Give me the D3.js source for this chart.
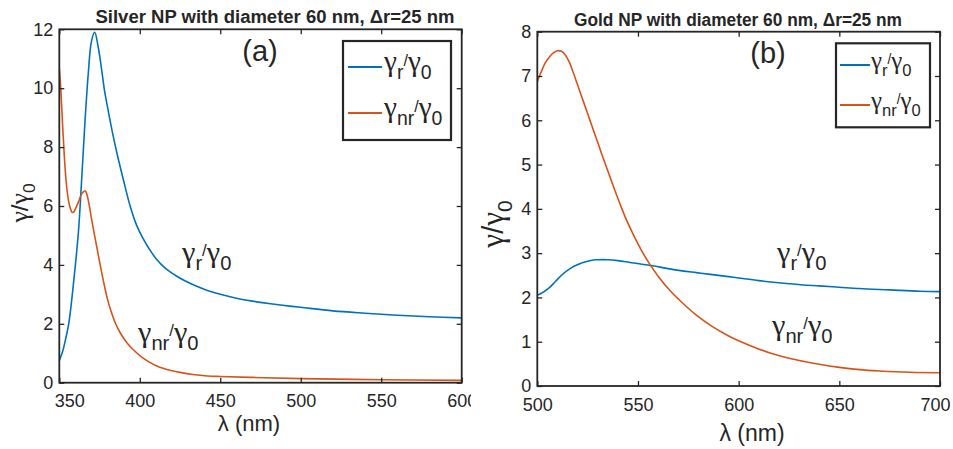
<!DOCTYPE html>
<html>
<head>
<meta charset="utf-8">
<script src="https://cdn.jsdelivr.net/npm/d3@7"></script>
<style>
  body { margin: 0; background: #fff; }
  svg { display: block; }
  text { font-family: "Liberation Sans", Arial, Helvetica, sans-serif; fill: #262626; }
</style>
</head>
<body>
<svg id="fig" width="953" height="449"></svg>
<script>
// ---- Silver nanoparticle (panel a) ----
const silverRadLambda = [350,352,354,356,358,360,362,364,366,368,370,372,374,376,378,380,383,386,390,394,398,402,406,410,416,422,428,435,442,450,460,470,480,490,500,520,540,560,580,600];
const silverRad       = [0.75,1.05,1.5,2.05,2.95,4.0,5.2,7.0,8.9,10.5,11.6,11.9,11.45,10.75,9.95,9.35,8.5,7.75,6.85,6.0,5.35,4.9,4.53,4.22,3.88,3.65,3.46,3.28,3.13,3.0,2.87,2.77,2.69,2.62,2.56,2.44,2.36,2.29,2.24,2.2];

const silverNonRadLambda = [350,351,352,353,354,355,356,357,358,359,360,362,364,366,367,368,369,370,372,374,376,378,380,382,385,388,392,396,401,406,412,418,425,433,442,450,470,500,550,600];
const silverNonRad       = [10.7,9.9,8.8,7.8,7.0,6.45,6.1,5.9,5.78,5.8,5.9,6.15,6.42,6.52,6.42,6.2,5.9,5.57,4.98,4.4,3.83,3.3,2.82,2.45,2.0,1.68,1.36,1.12,0.88,0.7,0.53,0.43,0.35,0.28,0.23,0.21,0.18,0.14,0.1,0.08];

// ---- Gold nanoparticle (panel b) ----
const goldRadLambda = [500,503,506,509,512,515,518,522,526,530,535,540,546,552,558,565,572,579,586,595,600,610,620,632,640,650,660,675,690,700];
const goldRad       = [2.05,2.12,2.22,2.36,2.5,2.61,2.7,2.78,2.83,2.85,2.85,2.83,2.79,2.75,2.71,2.65,2.6,2.56,2.52,2.47,2.44,2.38,2.33,2.28,2.26,2.23,2.2,2.17,2.14,2.13];

const goldNonRadLambda = [500,502,504,506,508,510,512,514,516,518,520,523,526,529,532,535,538,541,544,548,552,556,560,566,572,579,587,595,600,608,616,624,632,640,650,660,670,685,700];
const goldNonRad       = [6.87,7.1,7.3,7.43,7.52,7.57,7.56,7.47,7.3,7.06,6.8,6.41,6.02,5.63,5.24,4.86,4.48,4.12,3.78,3.39,3.04,2.74,2.48,2.15,1.88,1.6,1.34,1.13,1.02,0.87,0.74,0.64,0.56,0.49,0.42,0.37,0.34,0.31,0.3];

// ---- Ticks and text ----
const silverXTicks = [350,400,450,500,550,600];
const silverYTicks = [0,2,4,6,8,10,12];
const goldXTicks   = [500,550,600,650,700];
const goldYTicks   = [0,1,2,3,4,5,6,7,8];
const titles = ["Silver NP with diameter 60 nm, \u0394r=25 nm", "Gold NP with diameter 60 nm, \u0394r=25 nm"];
const panelTags = ["(a)", "(b)"];
const xLabelText = "\u03bb (nm)";
const seriesNames = ["r", "nr"];   // subscripts of gamma_r / gamma_nr

const BLUE = "#0072BD", ORANGE = "#D95319", AXIS = "#262626";
const GREEK_FONT = '"Liberation Serif", "DejaVu Serif", serif';
const svg = d3.select("#fig");
const defs = svg.append("defs");

// gamma_sub / gamma_0 rendered with tspans
function gammaRatio(parent, sub, size, o) {
  const subSize = size * 0.72, drop = size * 0.3;
  const slashSize = o.smallSlash ? size * 0.6 : size;
  const lift = o.smallSlash ? size * 0.2 : 0;
  const gSize = size * 1.08;
  const t = parent.append("text")
    .attr("x", o.x).attr("y", o.y)
    .attr("font-size", size)
    .attr("text-anchor", o.anchor || "start");
  if (o.rotate) t.attr("transform", `rotate(-90,${o.x},${o.y})`);
  t.append("tspan").style("font-family", GREEK_FONT).attr("font-size", gSize).text("\u03b3");
  if (sub) t.append("tspan").attr("font-size", subSize).attr("dy", drop).text(sub);
  t.append("tspan").attr("font-size", slashSize).attr("dy", (sub ? -drop : 0) - lift).text("/");
  t.append("tspan").style("font-family", GREEK_FONT).attr("font-size", gSize).attr("dy", lift).text("\u03b3");
  t.append("tspan").attr("font-size", subSize).attr("dy", drop).text("0");
  return t;
}

function drawPanel(p) {
  const g = svg.append("g");
  if (p.clipRight) {
    defs.append("clipPath").attr("id", p.id + "-clip")
      .append("rect").attr("x", 0).attr("y", 0).attr("width", p.clipRight).attr("height", 449);
    g.attr("clip-path", `url(#${p.id}-clip)`);
  }
  const x = d3.scaleLinear().domain(p.xDomain).range([p.left, p.right]);
  const y = d3.scaleLinear().domain(p.yDomain).range([p.bottom, p.top]);
  const tick = 5;

  // curves, clipped to the axes box
  defs.append("clipPath").attr("id", p.id + "-plot")
    .append("rect").attr("x", p.left).attr("y", p.top)
    .attr("width", p.right - p.left).attr("height", p.bottom - p.top);
  const lines = g.append("g").attr("clip-path", `url(#${p.id}-plot)`);
  const line = d3.line().curve(d3.curveCatmullRom.alpha(0.5));
  p.series.forEach(s => {
    lines.append("path")
      .attr("d", line(s.lambda.map((l, i) => [x(l), y(s.values[i])])))
      .attr("fill", "none").attr("stroke", s.color).attr("stroke-width", 1.6)
      .attr("stroke-linejoin", "round");
  });

  // axes with inward ticks on all four sides
  const styleAxis = a => {
    a.select(".domain").remove();
    a.selectAll(".tick line").attr("stroke", AXIS).attr("stroke-width", 1.3);
    a.selectAll(".tick text").attr("font-size", 18).attr("fill", AXIS)
      .attr("font-family", '"Liberation Sans", Arial, sans-serif');
  };
  const bx = g.append("g").attr("transform", `translate(0,${p.bottom})`)
    .call(d3.axisBottom(x).tickValues(p.xTicks).tickSize(-tick).tickPadding(12).tickFormat(d3.format("d")))
    .call(styleAxis);
  const nx = p.xTicks.length;
  if (p.firstXLabelShift) bx.selectAll(".tick text").filter((d, i) => i === 0).attr("dx", p.firstXLabelShift);
  if (p.lastXLabelShift) bx.selectAll(".tick text").filter((d, i) => i === nx - 1).attr("dx", p.lastXLabelShift);
  g.append("g").attr("transform", `translate(0,${p.top})`)
    .call(d3.axisTop(x).tickValues(p.xTicks).tickSize(-tick).tickFormat(""))
    .call(styleAxis);
  g.append("g").attr("transform", `translate(${p.left},0)`)
    .call(d3.axisLeft(y).tickValues(p.yTicks).tickSize(-tick).tickPadding(6).tickFormat(d3.format("d")))
    .call(styleAxis);
  g.append("g").attr("transform", `translate(${p.right},0)`)
    .call(d3.axisRight(y).tickValues(p.yTicks).tickSize(-tick).tickFormat(""))
    .call(styleAxis);
  g.append("rect").attr("x", p.left).attr("y", p.top)
    .attr("width", p.right - p.left).attr("height", p.bottom - p.top)
    .attr("fill", "none").attr("stroke", AXIS).attr("stroke-width", 1.8);

  // title and panel tag
  g.append("text").attr("x", p.titleX).attr("y", p.titleY)
    .attr("text-anchor", "middle").attr("font-weight", "bold").attr("font-size", 18)
    .attr("textLength", p.titleWidth).attr("lengthAdjust", "spacingAndGlyphs")
    .attr("fill", "#111").text(p.title);
  g.append("text").attr("x", p.tagX).attr("y", p.tagY)
    .attr("text-anchor", "middle").attr("font-size", 29).attr("fill", "#111").text(p.tag);

  // axis labels
  g.append("text").attr("x", p.xLabelX).attr("y", p.xLabelY)
    .attr("text-anchor", "middle").attr("font-size", p.xLabelSize).text(xLabelText);
  gammaRatio(g, null, p.yLabelSize, { x: p.yLabelX, y: p.yLabelY, anchor: "middle", rotate: true });

  // curve annotations
  p.series.forEach(s => {
    gammaRatio(g, s.sub, p.noteSize, { x: s.noteX, y: s.noteY, smallSlash: true });
  });

  // legend
  const L = p.legend;
  g.append("rect").attr("x", L.x0).attr("y", L.y0)
    .attr("width", L.x1 - L.x0).attr("height", L.y1 - L.y0)
    .attr("fill", "#fff").attr("stroke", AXIS).attr("stroke-width", 2.2);
  p.series.forEach((s, i) => {
    const ly = L.rows[i];
    g.append("line").attr("x1", L.lineX0).attr("x2", L.lineX1).attr("y1", ly).attr("y2", ly)
      .attr("stroke", s.color).attr("stroke-width", 2);
    gammaRatio(g, s.sub, L.size, { x: L.textX, y: ly + L.size * 0.16, smallSlash: true });
  });
}

drawPanel({
  id: "silver",
  xDomain: [350, 600], yDomain: [0, 12],
  left: 59.3, right: 461.7, top: 29.3, bottom: 382.7,
  xTicks: silverXTicks, yTicks: silverYTicks,
  firstXLabelShift: 10, clipRight: 471,
  title: titles[0], titleX: 275, titleY: 23, titleWidth: 359,
  tag: panelTags[0], tagX: 260, tagY: 61,
  xLabelX: 249, xLabelY: 431, xLabelSize: 22,
  yLabelX: 28, yLabelY: 203, yLabelSize: 24,
  noteSize: 28,
  series: [
    { lambda: silverRadLambda, values: silverRad, color: BLUE, sub: seriesNames[0], noteX: 182, noteY: 262 },
    { lambda: silverNonRadLambda, values: silverNonRad, color: ORANGE, sub: seriesNames[1], noteX: 138, noteY: 342 }
  ],
  legend: { x0: 343, y0: 41, x1: 451, y1: 140, lineX0: 348, lineX1: 382, textX: 384, rows: [67, 113], size: 27 }
});

drawPanel({
  id: "gold",
  xDomain: [500, 700], yDomain: [0, 8],
  left: 537.3, right: 940, top: 31.7, bottom: 386,
  xTicks: goldXTicks, yTicks: goldYTicks,
  lastXLabelShift: -5,
  title: titles[1], titleX: 738, titleY: 26, titleWidth: 328,
  tag: panelTags[1], tagX: 768, tagY: 63,
  xLabelX: 752, xLabelY: 441, xLabelSize: 23,
  yLabelX: 503, yLabelY: 224, yLabelSize: 29,
  noteSize: 28,
  series: [
    { lambda: goldRadLambda, values: goldRad, color: BLUE, sub: seriesNames[0], noteX: 777, noteY: 262 },
    { lambda: goldNonRadLambda, values: goldNonRad, color: ORANGE, sub: seriesNames[1], noteX: 772, noteY: 335 }
  ],
  legend: { x0: 836, y0: 43.3, x1: 930, y1: 127.3, lineX0: 840, lineX1: 870, textX: 871, rows: [65, 105], size: 23 }
});
</script>
</body>
</html>
